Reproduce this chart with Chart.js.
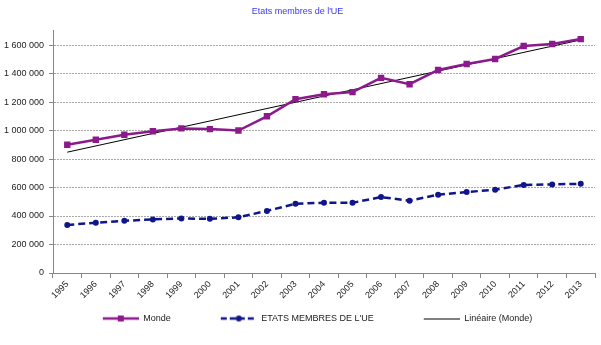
<!DOCTYPE html>
<html>
<head>
<meta charset="utf-8">
<script src="https://cdn.jsdelivr.net/npm/chart.js@4"></script>
<style>
    html, body { margin: 0; padding: 0; background: #fff; }
    #wrap { width: 601px; height: 345px; }
</style>
</head>
<body>
<div id="wrap"><canvas id="chart" width="601" height="345"></canvas></div>
<script>
// values
const years = ["1995", "1996", "1997", "1998", "1999", "2000", "2001", "2002", "2003", "2004",
    "2005", "2006", "2007", "2008", "2009", "2010", "2011", "2012", "2013"];
const monde = [900000, 935000, 970000, 995000, 1015000, 1010000, 1000000, 1100000, 1220000, 1255000,
    1270000, 1370000, 1325000, 1425000, 1467000, 1502000, 1593000, 1607000, 1642000];
const etatsUE = [337000, 353000, 366000, 376000, 383000, 380000, 391000, 436000, 486000, 493000,
    493000, 533000, 507000, 550000, 568000, 585000, 618000, 622000, 626000];
// trend line (Linéaire) endpoints
const trendStart = 848000;
const trendEnd = 1636000;
const yTicks = [0, 200000, 400000, 600000, 800000, 1000000, 1200000, 1400000, 1600000];

const purple = "#8C1A8C";
const navy = "#10168A";

let trend = years.map(() => null);
trend[0] = trendStart;
trend[trend.length - 1] = trendEnd;

// little legend icons: transparent gap on the left, line sample on the right
function makeIcon(draw) {
    let c = document.createElement("canvas");
    c.width = 76;
    c.height = 10;
    let g = c.getContext("2d");
    draw(g);
    return c;
}

const legendIcons = [
    makeIcon(g => {
        g.strokeStyle = purple;
        g.lineWidth = 2.5;
        g.beginPath(); g.moveTo(40, 5); g.lineTo(76, 5); g.stroke();
        g.fillStyle = purple;
        g.fillRect(55, 2, 6, 6);
    }),
    makeIcon(g => {
        g.strokeStyle = navy;
        g.lineWidth = 2.5;
        g.setLineDash([6, 3]);
        g.beginPath(); g.moveTo(40, 5); g.lineTo(76, 5); g.stroke();
        g.fillStyle = navy;
        g.beginPath(); g.arc(58, 5, 3, 0, Math.PI * 2); g.fill();
    }),
    makeIcon(g => {
        g.strokeStyle = "#000";
        g.lineWidth = 1;
        g.beginPath(); g.moveTo(40, 5.5); g.lineTo(76, 5.5); g.stroke();
    })
];

function formatNumber(v) {
    return String(Math.round(v)).replace(/\B(?=(\d{3})+(?!\d))/g, " ");
}

const ctx = document.getElementById("chart").getContext("2d");
new Chart(ctx, {
    type: "line",
    data: {
        labels: years,
        datasets: [{
            label: "Monde",
            data: monde,
            borderColor: purple,
            backgroundColor: purple,
            borderWidth: 2.5,
            pointStyle: "rect",
            pointRadius: 4.5,
            pointBorderWidth: 0,
            tension: 0
        }, {
            label: "ETATS MEMBRES DE L'UE",
            data: etatsUE,
            borderColor: navy,
            backgroundColor: navy,
            borderWidth: 2.5,
            borderDash: [7, 4],
            pointStyle: "circle",
            pointRadius: 3,
            pointBorderWidth: 0,
            tension: 0
        }, {
            label: "Linéaire (Monde)",
            data: trend,
            borderColor: "#000",
            borderWidth: 1,
            pointRadius: 0,
            spanGaps: true,
            tension: 0
        }]
    },
    options: {
        responsive: false,
        animation: false,
        layout: { padding: { top: 0, right: 6, bottom: 12, left: 0 } },
        scales: {
            x: {
                offset: true,
                afterFit: scale => { scale.height = 31; },
                grid: {
                    offset: true,
                    drawOnChartArea: false,
                    tickLength: 5,
                    tickColor: "#868686"
                },
                border: { color: "#868686", width: 1 },
                ticks: {
                    minRotation: 45,
                    maxRotation: 45,
                    autoSkip: false,
                    padding: 1,
                    color: "#222",
                    font: { family: "Liberation Sans", size: 9 }
                }
            },
            y: {
                min: 0,
                max: 1700000,
                afterFit: scale => { scale.width = 53; },
                afterBuildTicks: axis => {
                    axis.ticks = yTicks.map(v => ({ value: v }));
                },
                grid: {
                    color: "#a8a8a8",
                    tickLength: 4,
                    tickColor: "#868686",
                    tickBorderDash: [],
                    lineWidth: 1
                },
                border: { color: "#868686", width: 1, dash: [2, 1] },
                ticks: {
                    padding: 5,
                    color: "#222",
                    font: { family: "Liberation Sans", size: 9 },
                    callback: v => formatNumber(v)
                }
            }
        },
        plugins: {
            title: {
                display: true,
                text: "Etats membres de l'UE",
                color: "#3A3AF0",
                font: { family: "Liberation Sans", size: 9, weight: "normal" },
                padding: { top: 6, bottom: 14 }
            },
            legend: {
                position: "bottom",
                labels: {
                    usePointStyle: true,
                    pointStyleWidth: 76,
                    padding: 10,
                    color: "#222",
                    font: { family: "Liberation Sans", size: 9 },
                    generateLabels: chart =>
                        Chart.defaults.plugins.legend.labels.generateLabels(chart).map((item, i) => {
                            item.pointStyle = legendIcons[i];
                            return item;
                        })
                }
            },
            tooltip: { enabled: false }
        }
    }
});
</script>
</body>
</html>
